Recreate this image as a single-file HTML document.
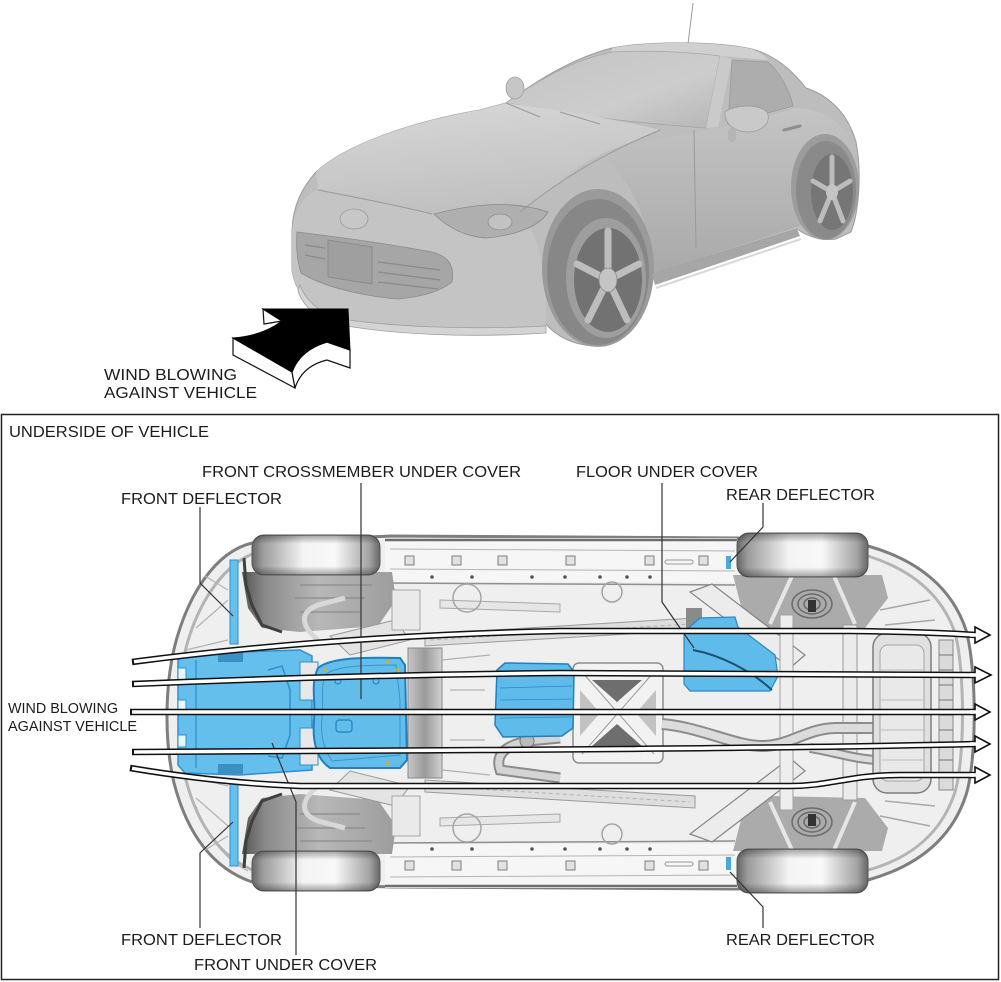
<!DOCTYPE html>
<html><head><meta charset="utf-8"><style>
html,body{margin:0;padding:0;background:#fff;}
svg{display:block;}
text{font-family:"Liberation Sans",Arial,sans-serif;fill:#1c1c1c;}
</style></head><body>
<svg width="1001" height="982" viewBox="0 0 1001 982" xmlns="http://www.w3.org/2000/svg">
<defs>
 <linearGradient id="tire" x1="0" x2="1" y1="0" y2="0">
  <stop offset="0" stop-color="#666"/><stop offset="0.08" stop-color="#9a9a9a"/>
  <stop offset="0.4" stop-color="#f4f4f4"/><stop offset="0.65" stop-color="#f8f8f8"/>
  <stop offset="0.92" stop-color="#a2a2a2"/><stop offset="1" stop-color="#666"/>
 </linearGradient>
 <linearGradient id="tireV" x1="0" x2="0" y1="0" y2="1">
  <stop offset="0" stop-color="#000" stop-opacity="0.35"/><stop offset="0.22" stop-color="#000" stop-opacity="0"/>
  <stop offset="0.78" stop-color="#000" stop-opacity="0"/><stop offset="1" stop-color="#000" stop-opacity="0.35"/>
 </linearGradient>
 <linearGradient id="wellG" x1="0" x2="1" y1="0" y2="0">
  <stop offset="0" stop-color="#555"/><stop offset="0.15" stop-color="#8a8a8a"/>
  <stop offset="0.5" stop-color="#b8b8b8"/><stop offset="1" stop-color="#9c9c9c"/>
 </linearGradient>
 <linearGradient id="transG" x1="0" x2="1" y1="0" y2="0">
  <stop offset="0" stop-color="#c6c6c6"/><stop offset="0.5" stop-color="#9a9a9a"/><stop offset="1" stop-color="#d2d2d2"/>
 </linearGradient>
 <linearGradient id="hoodG" x1="0" x2="0.3" y1="0" y2="1">
  <stop offset="0" stop-color="#d8d8d8"/><stop offset="1" stop-color="#c0c0c0"/>
 </linearGradient>
 <linearGradient id="sideG" x1="0" x2="0" y1="0" y2="1">
  <stop offset="0" stop-color="#c4c4c4"/><stop offset="1" stop-color="#a9a9a9"/>
 </linearGradient>
 <linearGradient id="glassG" x1="0" x2="1" y1="0" y2="1">
  <stop offset="0" stop-color="#c2c2c2"/><stop offset="0.6" stop-color="#cdcdcd"/><stop offset="1" stop-color="#b6b6b6"/>
 </linearGradient>
</defs>

<!-- ================= TOP CAR ================= -->
<line x1="693" y1="3" x2="688" y2="44" stroke="#9a9a9a" stroke-width="1"/>
<path d="M292,230 C293,205 302,188 316,172 C345,145 410,122 480,110 L506,103 C535,82 572,58 612,48 C655,40 720,42 752,49 C778,56 795,74 806,88 C830,96 848,114 856,142 C862,172 859,212 851,232 L836,239 C822,241 808,237 797,229 L652,274 C646,310 628,343 598,346 C574,346 556,336 546,324 L542,331 C500,335 440,334 410,329 C372,325 342,320 330,314 C306,305 295,290 292,270 Z" fill="#bdbdbd" stroke="#9c9c9c" stroke-width="1"/>
<path d="M612,48 C655,40 720,42 752,49 C760,52 765,56 768,60 L720,56 C690,52 650,50 612,52 Z" fill="#d0d0d0"/>
<path d="M506,103 C535,82 572,60 612,52 C650,50 690,52 720,56 L706,128 C650,124 580,117 540,108 Z" fill="url(#glassG)" stroke="#a6a6a6" stroke-width="0.8"/>
<path d="M720,56 L732,59 L718,127 L706,128 Z" fill="#cacaca"/>
<path d="M732,60 L768,62 C780,72 790,92 793,106 L728,124 Z" fill="#adadad" stroke="#999" stroke-width="0.8"/>
<path d="M600,150 C640,142 700,132 740,124 L795,108 C825,108 846,125 854,148 C860,175 856,205 848,222 L800,226 L652,274 C650,225 635,185 600,150 Z" fill="url(#sideG)"/>
<path d="M316,172 C345,145 410,122 480,110 L506,103 C560,110 620,120 660,130 C640,140 600,150 575,170 C555,185 535,200 520,212 L432,214 L318,190 Z" fill="url(#hoodG)"/>
<path d="M292,230 C294,210 304,195 318,190 L432,214 L520,212 C535,230 545,260 546,300 L546,324 L542,331 C500,335 440,334 410,329 C372,325 342,320 330,314 C306,305 295,290 292,270 Z" fill="#c4c4c4"/>
<path d="M297,232 C330,236 390,244 432,252 C448,256 455,266 452,282 C440,292 420,297 398,299 C360,296 322,286 301,273 C297,260 296,245 297,232 Z" fill="#a6a6a6" stroke="#8c8c8c" stroke-width="0.8"/>
<path d="M328,240 L372,247 L372,284 L328,277 Z" fill="#9f9f9f" stroke="#868686" stroke-width="0.8"/>
<path d="M378,262 L440,270 M378,272 L440,280 M378,282 L438,289 M305,245 L325,248 M305,255 L325,259" stroke="#8a8a8a" stroke-width="1.2"/>
<path d="M434,214 C470,205 510,199 548,212 C540,226 515,236 485,238 C462,236 446,226 434,214 Z" fill="#afafaf" stroke="#8a8a8a" stroke-width="0.8"/>
<ellipse cx="500" cy="222" rx="12" ry="8" fill="#c2c2c2" stroke="#8f8f8f" stroke-width="0.8"/>
<path d="M300,285 C305,300 320,312 335,318 C390,327 470,330 546,326 L546,333 C470,338 390,335 330,323 C312,316 300,300 298,290 Z" fill="#d4d4d4" stroke="#9e9e9e" stroke-width="0.8"/>
<ellipse cx="354" cy="219" rx="14" ry="10" fill="#c7c7c7" stroke="#999" stroke-width="0.8"/>
<path d="M318,190 C360,198 400,206 432,214 M520,212 C560,180 600,155 660,130 M506,103 L540,117 M560,112 L600,124" stroke="#999" stroke-width="1" fill="none"/>
<!-- front wheel -->
<ellipse cx="598" cy="268" rx="56" ry="79" fill="#9a9a9a"/>
<ellipse cx="598" cy="272" rx="51" ry="73" fill="#878787"/>
<ellipse cx="606" cy="278" rx="40" ry="60" fill="#9e9e9e"/>
<ellipse cx="608" cy="280" rx="34" ry="52" fill="#727272"/>
<g stroke="#bdbdbd" stroke-width="7" stroke-linecap="round">
 <line x1="608" y1="280" x2="608" y2="231"/><line x1="608" y1="280" x2="639" y2="264"/>
 <line x1="608" y1="280" x2="627" y2="320"/><line x1="608" y1="280" x2="588" y2="320"/>
 <line x1="608" y1="280" x2="577" y2="264"/>
</g>
<ellipse cx="608" cy="280" rx="9" ry="12" fill="#c4c4c4" stroke="#8a8a8a" stroke-width="0.8"/>
<!-- rear wheel -->
<ellipse cx="825" cy="187" rx="34" ry="53" fill="#9c9c9c"/>
<ellipse cx="826" cy="190" rx="30" ry="49" fill="#8a8a8a"/>
<ellipse cx="832" cy="192" rx="21" ry="38" fill="#767676"/>
<g stroke="#bcbcbc" stroke-width="5" stroke-linecap="round">
 <line x1="832" y1="192" x2="832" y2="157"/><line x1="832" y1="192" x2="850" y2="181"/>
 <line x1="832" y1="192" x2="843" y2="221"/><line x1="832" y1="192" x2="820" y2="221"/>
 <line x1="832" y1="192" x2="813" y2="181"/>
</g>
<ellipse cx="832" cy="192" rx="6" ry="8" fill="#c4c4c4"/>
<path d="M652,274 L797,229 L800,236 L655,285 Z" fill="#a6a6a6"/>
<path d="M656,288 L801,239" stroke="#d8d8d8" stroke-width="2"/>
<path d="M694,130 L696,248" stroke="#9a9a9a" stroke-width="1"/>
<path d="M784,130 L800,126" stroke="#8e8e8e" stroke-width="3" stroke-linecap="round"/>
<path d="M725,112 C735,104 760,104 767,112 C772,122 762,132 748,132 C735,132 724,124 725,112 Z" fill="#c9c9c9" stroke="#999" stroke-width="0.8"/>
<rect x="728" y="128" width="8" height="14" rx="3" fill="#b5b5b5"/>
<ellipse cx="515" cy="88" rx="9" ry="11" fill="#c6c6c6" stroke="#a0a0a0" stroke-width="0.8"/>

<!-- big black wind arrow -->
<path d="M233,338 L292,372 L295,388 L233,355 Z" fill="#fff" stroke="#111" stroke-width="1.2"/>
<path d="M292,372 Q300,350 327,342 L350,350 L350,368 L327,360 Q302,366 295,388 Z" fill="#fff" stroke="#111" stroke-width="1.2"/>
<path d="M263,309 L264,324 L282,321 Z" fill="#fff" stroke="#111" stroke-width="1.2"/>
<path d="M263,309 L348,309 L350,350 L327,342 Q300,350 292,372 L233,338 Q262,336 282,321 Z" fill="#000" stroke="#000" stroke-width="1"/>
<text x="104" y="380" font-size="16" textLength="133" lengthAdjust="spacingAndGlyphs">WIND BLOWING</text>
<text x="104" y="398" font-size="16" textLength="153" lengthAdjust="spacingAndGlyphs">AGAINST VEHICLE</text>

<!-- ================= BOX ================= -->
<rect x="1.5" y="414.5" width="997" height="565" fill="none" stroke="#222" stroke-width="1.5"/>

<!-- underside body -->
<path d="M252,543 C215,552 188,595 175,645 C165,685 164,740 174,783 C187,833 212,868 252,882 L390,887 L737,889 L868,880 C918,866 952,838 966,795 C977,760 977,670 966,630 C952,588 918,560 868,546 L737,538 L390,536 Z" fill="#efefef" stroke="#7e7e7e" stroke-width="3"/>
<path d="M258,552 C225,562 198,602 186,648 C177,688 177,738 186,780 C198,826 222,860 258,872" fill="none" stroke="#b4b4b4" stroke-width="3"/>
<path d="M868,556 C912,570 942,595 955,633 C965,670 965,758 955,792 C942,832 912,858 868,870" fill="none" stroke="#b4b4b4" stroke-width="3"/>

<g id="half">
 <rect x="385" y="538" width="352" height="44" fill="#f6f6f6"/>
 <path d="M385,540 L737,540" stroke="#6d6d6d" stroke-width="2.5"/>
 <path d="M390,549 L735,551 M390,569 L735,571" stroke="#b4b4b4" stroke-width="1"/>
 <path d="M388,583 L735,585" stroke="#8f8f8f" stroke-width="1.5"/>
 <g fill="#e2e2e2" stroke="#7f7f7f" stroke-width="1">
  <rect x="405" y="556" width="9" height="9"/><rect x="452" y="556" width="9" height="9"/>
  <rect x="498" y="556" width="9" height="9"/><rect x="566" y="556" width="9" height="9"/>
  <rect x="645" y="556" width="9" height="9"/><rect x="699" y="556" width="9" height="9"/>
 </g>
 <rect x="665" y="560" width="28" height="4" rx="2" fill="none" stroke="#999"/>
 <g fill="#555">
  <circle cx="432" cy="577" r="1.8"/><circle cx="472" cy="577" r="1.8"/><circle cx="532" cy="577" r="1.8"/>
  <circle cx="565" cy="577" r="1.8"/><circle cx="600" cy="577" r="1.8"/><circle cx="627" cy="577" r="1.8"/><circle cx="650" cy="577" r="1.8"/>
 </g>
 <!-- front well -->
 <path d="M242,572 L392,572 L396,600 L378,626 L300,632 L262,628 L248,608 Z" fill="url(#wellG)"/>
 <path d="M244,558 L246,585 L252,605 L262,625 L282,632" stroke="#3f3f3f" stroke-width="3" fill="none"/>
 <path d="M300,585 L372,585 M295,598 L365,598 M300,612 L360,612" stroke="#8a8a8a" stroke-width="1.2"/>
 <path d="M318,640 C300,625 300,612 318,605 L345,598" stroke="#d8d8d8" stroke-width="5" fill="none"/>
 <path d="M330,636 L395,620 L410,640 L350,655 Z" fill="#e4e4e4" stroke="#9a9a9a"/>
 <rect x="392" y="590" width="28" height="40" fill="#eaeaea" stroke="#a5a5a5"/>
 <!-- rear well -->
 <path d="M733,575 L882,575 L888,598 L865,628 L770,630 L742,610 Z" fill="#ababab"/>
 <g fill="none" stroke="#6a6a6a" stroke-width="1.5">
  <ellipse cx="812" cy="604" rx="20" ry="14"/><ellipse cx="812" cy="604" rx="14" ry="10"/><ellipse cx="812" cy="604" rx="8" ry="6"/>
 </g>
 <rect x="808" y="600" width="8" height="12" fill="#333"/>
 <path d="M792,576 L770,624 M834,576 L855,624" stroke="#e6e6e6" stroke-width="4"/>
 <!-- rails -->
 <path d="M425,634 L695,618 L695,630 L425,646 Z" fill="#dedede" stroke="#9a9a9a"/>
 <path d="M430,640 L690,624" stroke="#b0b0b0" stroke-dasharray="4 3"/>
 <path d="M440,600 L560,604 L560,612 L440,608 Z" fill="#e6e6e6" stroke="#a8a8a8"/>
 <circle cx="467" cy="598" r="14" fill="none" stroke="#a5a5a5" stroke-width="1.5"/>
 <circle cx="612" cy="592" r="10" fill="none" stroke="#a5a5a5" stroke-width="1.5"/>
 <!-- rear arm -->
 <path d="M690,592 L712,584 L805,655 L790,668 Z" fill="#ececec" stroke="#858585" stroke-width="1.2"/>
 <path d="M880,610 L930,600 M885,625 L935,620" stroke="#a8a8a8" stroke-width="1.5"/>
 <!-- bumper lines -->
 <path d="M248,555 C226,566 206,590 196,620 M228,600 L196,628 M228,640 L186,650 M205,576 L228,590" stroke="#b3b3b3" fill="none" stroke-width="1.2"/>
 <!-- tires -->
 <rect x="252" y="535" width="128" height="40" rx="12" fill="url(#tire)" stroke="#555" stroke-width="1"/>
 <rect x="252" y="535" width="128" height="40" rx="12" fill="url(#tireV)"/>
 <rect x="737" y="533" width="131" height="44" rx="12" fill="url(#tire)" stroke="#555" stroke-width="1"/>
 <rect x="737" y="533" width="131" height="44" rx="12" fill="url(#tireV)"/>
 <!-- deflectors -->
 <rect x="230" y="560" width="8" height="84" fill="#67c0ec" stroke="#2e8fd0" stroke-width="1"/>
 <rect x="726" y="556" width="5" height="13" fill="#4aa8e0"/>
</g>
<use href="#half" transform="matrix(1,0,0,-1,0,1426)"/>

<!-- central parts -->
<rect x="408" y="648" width="34" height="130" fill="url(#transG)" stroke="#888"/>
<path d="M442,660 L490,655 M442,770 L490,775 M450,690 L485,690 M450,740 L485,740" stroke="#b0b0b0" stroke-width="1.2"/>
<rect x="573" y="663" width="90" height="100" rx="6" fill="#f2f2f2" stroke="#8d8d8d" stroke-width="1.5"/>
<path d="M592,680 L642,680 L617,702 Z M592,746 L642,746 L617,724 Z" fill="#6e6e6e"/>
<path d="M580,690 L580,736 L600,713 Z M656,690 L656,736 L636,713 Z" fill="#c2c2c2"/>
<path d="M582,672 L654,754 M654,672 L582,754" stroke="#9a9a9a" stroke-width="1"/>
<rect x="780" y="615" width="13" height="195" fill="#eeeeee" stroke="#a0a0a0"/>
<rect x="843" y="625" width="14" height="175" fill="#ebebeb" stroke="#9a9a9a"/>
<path d="M662,724 C700,727 735,746 762,746 C790,746 805,729 835,728 L880,728" fill="none" stroke="#8c8c8c" stroke-width="12"/>
<path d="M662,724 C700,727 735,746 762,746 C790,746 805,729 835,728 L880,728" fill="none" stroke="#dcdcdc" stroke-width="8"/>
<path d="M810,748 C835,752 858,760 880,760" fill="none" stroke="#8c8c8c" stroke-width="10"/>
<path d="M810,748 C835,752 858,760 880,760" fill="none" stroke="#dcdcdc" stroke-width="6"/>
<path d="M560,738 L528,741 C505,745 495,755 500,770 L560,778" fill="none" stroke="#8a8a8a" stroke-width="11"/>
<path d="M560,738 L528,741 C505,745 495,755 500,770 L560,778" fill="none" stroke="#d4d4d4" stroke-width="7"/>
<circle cx="527" cy="741" r="7" fill="#bbb" stroke="#777"/>
<rect x="873" y="633" width="58" height="160" rx="14" fill="#e0e0e0" stroke="#7d7d7d" stroke-width="1.5"/>
<rect x="880" y="645" width="44" height="136" rx="8" fill="#e9e9e9" stroke="#a5a5a5"/>
<path d="M880,670 L924,670 M880,700 L924,700 M880,730 L924,730 M880,760 L924,760" stroke="#bdbdbd"/>
<rect x="939" y="640" width="14" height="150" fill="#dadada" stroke="#888"/>
<path d="M939,655 L953,655 M939,670 L953,670 M939,685 L953,685 M939,700 L953,700 M939,715 L953,715 M939,730 L953,730 M939,745 L953,745 M939,760 L953,760 M939,775 L953,775" stroke="#777"/>
<rect x="686" y="608" width="16" height="28" fill="#8a8a8a"/>

<!-- blue covers -->
<path d="M178,660 L185,655 L240,652 L300,650 L312,656 L312,770 L240,775 L185,773 L178,765 Z" fill="#64bfec" stroke="#2e8fd0" stroke-width="1.5"/>
<path d="M196,660 L196,768" stroke="#2f8fcf" stroke-width="1.2"/>
<g fill="#eaf6fd" stroke="#2e8fd0" stroke-width="1">
 <rect x="178" y="668" width="8" height="12"/><rect x="178" y="700" width="8" height="10"/>
 <rect x="178" y="735" width="8" height="12"/>
</g>
<rect x="218" y="652" width="25" height="10" fill="#3c8fc4"/>
<rect x="218" y="764" width="25" height="10" fill="#3c8fc4"/>
<path d="M268,670 L282,666 L290,690 L290,735 L282,758 L268,756" fill="none" stroke="#2e8fd0" stroke-width="1.5"/>
<path d="M300,662 L318,662 L318,700 L300,700 Z M300,728 L318,728 L318,765 L300,765 Z" fill="#e8e8e8" stroke="#2e8fd0" stroke-width="1"/>
<path d="M318,668 C330,658 360,657 400,658 L405,665 L407,760 L400,768 L330,768 C318,760 312,745 314,720 C316,700 310,685 318,668 Z" fill="#62bdea" stroke="#1f7fbf" stroke-width="2"/>
<path d="M326,674 C338,666 362,665 396,665 L400,700 L400,755 L332,761 C324,750 320,735 322,718 C324,700 320,686 326,674 Z" fill="none" stroke="#3a95d0" stroke-width="1"/>
<rect x="336" y="720" width="16" height="12" rx="3" fill="none" stroke="#1f7fbf" stroke-width="1.2"/>
<circle cx="338" cy="681" r="3" fill="none" stroke="#1f7fbf"/><circle cx="376" cy="681" r="3" fill="none" stroke="#1f7fbf"/>
<g fill="#c8b040"><circle cx="326" cy="670" r="2"/><circle cx="388" cy="662" r="2"/><circle cx="388" cy="763" r="2"/><circle cx="398" cy="670" r="2"/></g>
<path d="M497,670 L505,663 L568,664 L574,672 L573,728 L562,736 L503,737 L495,725 Z" fill="#5fbbea" stroke="#2080c0" stroke-width="1.5"/>
<path d="M500,688 L572,686 M500,700 L572,699 M500,718 L572,717" stroke="#2a88c8" stroke-width="0.8"/>
<path d="M684,632 L700,618 L735,617 L738,627 L775,655 L778,676 L770,691 L690,691 L684,684 Z" fill="#5fbbea" stroke="#2a88c8" stroke-width="1.2"/>
<path d="M693,650 C720,655 750,670 772,690" fill="none" stroke="#1e4e70" stroke-width="2"/>

<!-- leader lines -->
<g fill="none" stroke="#333" stroke-width="1.2">
 <path d="M361,483 L361,699"/>
 <path d="M200,507 L200,583 L233,616"/>
 <path d="M662,483 L662,602 L694,648"/>
 <path d="M763,503 L763,527 L730,562"/>
 <path d="M200,928 L200,853 L233,822"/>
 <path d="M296,955 L296,802 L272,743"/>
 <path d="M763,928 L763,907 L730,872"/>
</g>

<!-- wind arrows -->
<g fill="none" stroke="#111" stroke-width="6.5">
 <path d="M132,662 Q330,636 560,631 L850,631 Q930,632 976,635"/>
 <path d="M132,684 Q350,675 560,673 L976,675"/>
 <path d="M130,712 L976,712"/>
 <path d="M132,752 L480,750 Q800,748 976,744"/>
 <path d="M130,768 Q220,783 300,786 L790,786 C830,786 850,775 900,775 L976,775"/>
</g>
<g fill="none" stroke="#fff" stroke-width="3.5">
 <path d="M134,661.7 Q330,636 560,631 L850,631 Q930,632 976,635"/>
 <path d="M134,684 Q350,675 560,673 L976,675"/>
 <path d="M132,712 L976,712"/>
 <path d="M134,752 L480,750 Q800,748 976,744"/>
 <path d="M132,768.3 Q220,783 300,786 L790,786 C830,786 850,775 900,775 L976,775"/>
</g>
<g fill="#fff" stroke="#111" stroke-width="1.6" stroke-linejoin="miter">
 <path d="M975,627 L990,635 L975,643 Z"/>
 <path d="M975,667 L991,675 L975,683 Z"/>
 <path d="M975,704 L990,712 L975,720 Z"/>
 <path d="M975,736 L990,744 L975,752 Z"/>
 <path d="M975,767 L990,775 L975,783 Z"/>
</g>
<g stroke="#fff" stroke-width="3.5">
 <path d="M970,635 L978,635 M970,675 L978,675 M970,712 L978,712 M970,744 L978,744 M970,775 L978,775"/>
</g>

<!-- labels -->
<text x="9" y="437" font-size="16" textLength="200" lengthAdjust="spacingAndGlyphs">UNDERSIDE OF VEHICLE</text>
<text x="202" y="477" font-size="16" textLength="319" lengthAdjust="spacingAndGlyphs">FRONT CROSSMEMBER UNDER COVER</text>
<text x="121" y="504" font-size="16" textLength="161" lengthAdjust="spacingAndGlyphs">FRONT DEFLECTOR</text>
<text x="576" y="477" font-size="16" textLength="182" lengthAdjust="spacingAndGlyphs">FLOOR UNDER COVER</text>
<text x="726" y="500" font-size="16" textLength="149" lengthAdjust="spacingAndGlyphs">REAR DEFLECTOR</text>
<text x="8" y="713" font-size="15" textLength="110" lengthAdjust="spacingAndGlyphs">WIND BLOWING</text>
<text x="8" y="731" font-size="15" textLength="129" lengthAdjust="spacingAndGlyphs">AGAINST VEHICLE</text>
<text x="121" y="945" font-size="16" textLength="161" lengthAdjust="spacingAndGlyphs">FRONT DEFLECTOR</text>
<text x="194" y="970" font-size="16" textLength="183" lengthAdjust="spacingAndGlyphs">FRONT UNDER COVER</text>
<text x="726" y="945" font-size="16" textLength="149" lengthAdjust="spacingAndGlyphs">REAR DEFLECTOR</text>
</svg>
</body></html>
